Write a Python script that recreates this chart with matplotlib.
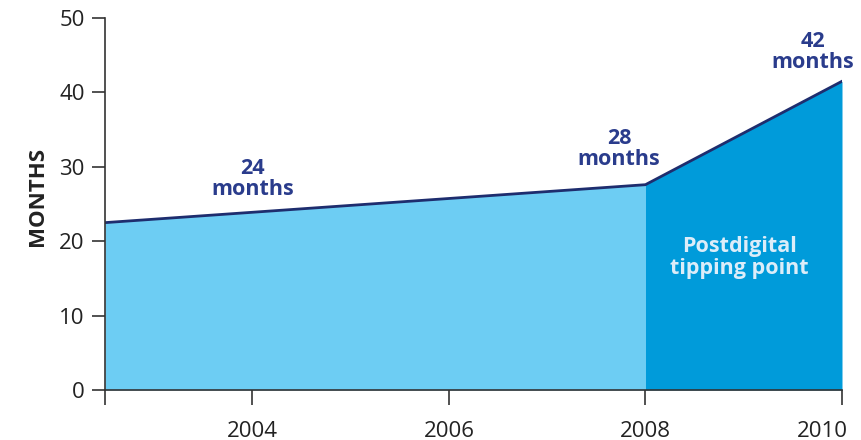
import matplotlib
matplotlib.use("Agg")
import matplotlib.pyplot as plt
import matplotlib.transforms as mtransforms
import numpy as np

plt.rcParams['font.family'] = ['Open Sans', 'DejaVu Sans']

# data
years = [2002.5, 2008, 2010]
months = [22.5, 27.6, 41.5]
tick_years = [2002.5, 2004, 2006, 2008, 2010]
tick_labels = ["", "2004", "2006", "2008", "2010"]
y_ticks = [0, 10, 20, 30, 40, 50]
notes = [(2004, 24), (2007.73, 28), (2009.7, 42)]
note_tops = [31.2, 35.2, 48.2]
split_year = 2008

light = "#6dcdf3"
dark = "#009bda"
navy = "#1e2d6e"
label_navy = "#2a3c8c"
grey = "#333333"

fig = plt.figure(figsize=(8.62, 4.4), dpi=100)
ax = fig.add_axes([0.1218, 0.1136, 0.855, 0.8454])

x = np.array(years)
y = np.array(months)
pre = x <= split_year
post = x >= split_year
ax.fill_between(x[pre], 0, y[pre], color=light, linewidth=0)
ax.fill_between(x[post], 0, y[post], color=dark, linewidth=0)
ax.plot(x, y, color=navy, linewidth=2, solid_joinstyle="miter")

for (nx, val), ny in zip(notes, note_tops):
    ax.text(nx, ny, f"{val}\nmonths", ha="center", va="top",
            color=label_navy, fontsize=15.5, fontweight="bold", linespacing=1.0)

ax.text(2008.96, 17.8, "Postdigital\ntipping point", ha="center", va="center",
        color="#dcedf9", fontsize=15.5, fontweight="bold", linespacing=1.05)

ax.set_xlim(years[0], years[-1])
ax.set_ylim(0, 50)
ax.set_xticks(tick_years)
ax.set_xticklabels(tick_labels)
ax.set_yticks(y_ticks)

for s in ["top", "right"]:
    ax.spines[s].set_visible(False)
for s in ["left", "bottom"]:
    ax.spines[s].set_color(grey)
    ax.spines[s].set_linewidth(1.2)
ax.tick_params(axis="both", colors=grey, labelcolor="#222222", labelsize=16,
               width=1.2, direction="out")
ax.tick_params(axis="x", length=11, pad=11)
ax.tick_params(axis="y", length=9.5, pad=5)
ax.set_ylabel("MONTHS", fontsize=16, fontweight="bold", color="#222222", labelpad=7)
ax.yaxis.set_label_coords(-0.078, 0.52)

# last year label sits inside the figure edge, as in the reference
last = ax.get_xticklabels()[-1]
last.set_horizontalalignment("right")
last.set_transform(last.get_transform() +
                   mtransforms.ScaledTranslation(6 / 100, 0, fig.dpi_scale_trans))

fig.savefig("out.png", dpi=100)
